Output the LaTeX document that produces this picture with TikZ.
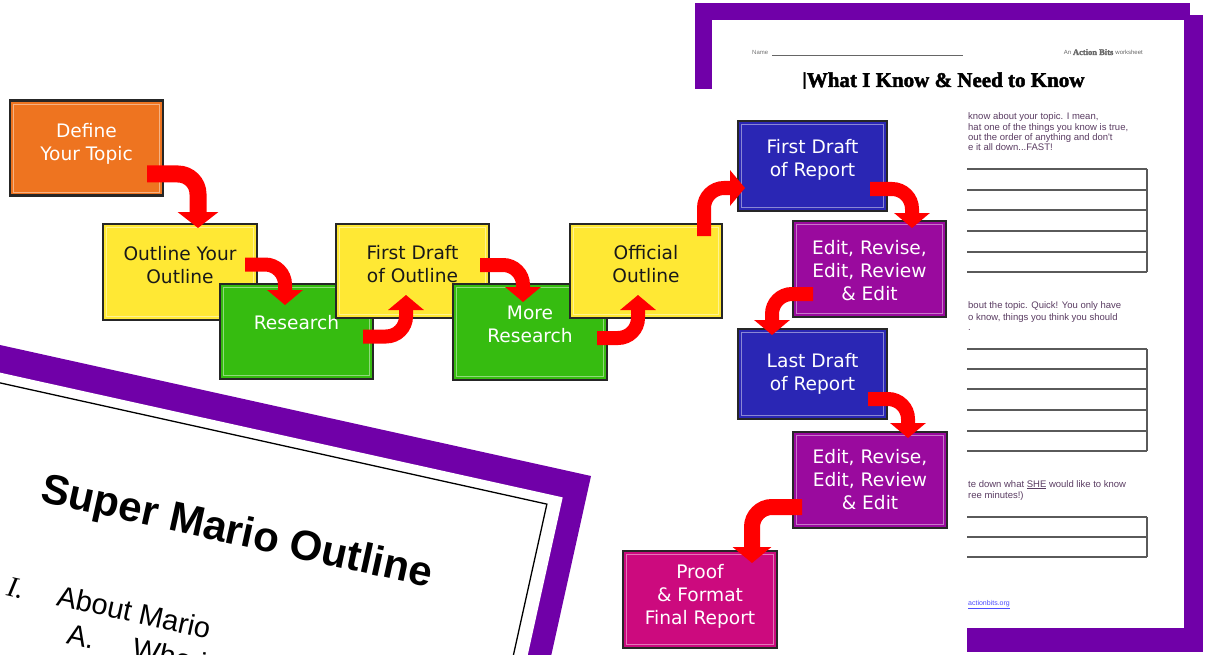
\documentclass[tikz,border=0pt]{standalone}
\usepackage{fontspec}
\setmainfont{Liberation Serif}
\newfontfamily\boxfont{DejaVu Sans}
\newfontfamily\sansfont{Liberation Sans}
\newfontfamily\heavyserif{Liberation Serif}[BoldFeatures={FakeBold=2}]
\usetikzlibrary{arrows.meta}

\definecolor{flowred}{HTML}{FF0000}
\definecolor{orangefill}{HTML}{EE7420}
\definecolor{yellowfill}{HTML}{FFE834}
\definecolor{greenfill}{HTML}{36BC10}
\definecolor{bluefill}{HTML}{2A26B4}
\definecolor{purplefill}{HTML}{9A0A9E}
\definecolor{pinkfill}{HTML}{CC0A7E}
\definecolor{sheetpurple}{HTML}{7000A8}
\definecolor{sheettext}{HTML}{5A3C62}
\definecolor{ruleline}{HTML}{5A5A5A}

\tikzset{
  flowbox/.style={draw=black!85, line width=2.5pt, fill=#1, minimum width=153pt, minimum height=95pt,
    inner sep=0pt, outer sep=0pt,
    path picture={\draw[white, opacity=0.45, line width=0.8pt]
      ([shift={(3.5pt,-3.5pt)}]path picture bounding box.north west) rectangle
      ([shift={(-3.5pt,3.5pt)}]path picture bounding box.south east);}},
  bluebox/.style={flowbox=bluefill, minimum width=149pt, minimum height=90pt},
  boxtext/.style={font=\boxfont\fontsize{18.6}{23}\selectfont, align=center, text=white, inner sep=0pt},
  darktext/.style={boxtext, text=black!90},
  bendarrow/.style={draw=flowred, line width=14pt, rounded corners=20pt, -{Triangle[length=15pt,width=35pt]}},
  sheetline/.style={font=\sansfont\fontsize{9.5}{10}\selectfont, text=sheettext, anchor=base west, inner sep=0pt},
  tablerule/.style={draw=ruleline, line width=1.2pt},
  mariotext/.style={font=\sansfont\fontsize{29}{34}\selectfont, anchor=base west, inner sep=0pt},
}

\begin{document}
\begin{tikzpicture}[x=1pt,y=-1pt]
\clip (0,0) rectangle (1209,655);
\fill[white] (0,0) rectangle (1209,655);

% worksheet behind everything
\fill[sheetpurple] (700,15) rectangle (1203,652);
\fill[sheetpurple] (695,3) rectangle (1190,640);
\fill[white] (712,20) rectangle (1184,628);
\node[font=\sansfont\fontsize{6}{7}\selectfont, text=black!55, anchor=base west, inner sep=0pt] (name) at (752,55) {Name};
\draw[black!60, line width=0.6pt] (name.base east) ++(4,0) -- (963,55);
\node[text=black!60, anchor=base east, inner sep=0pt] (brand) at (1143,55)
  {\sansfont\fontsize{6}{7}\selectfont An \heavyserif\bfseries\fontsize{8.5}{9}\selectfont Action Bits \sansfont\mdseries\fontsize{6}{7}\selectfont worksheet};
\node[font=\heavyserif\bfseries\fontsize{21}{24}\selectfont, anchor=base west, inner sep=0pt] (ws title) at (802,87) {|What I Know \& Need to Know};

\node[sheetline] (p1a) at (968,120) {know about your topic. I mean,};
\node[sheetline] (p1b) at (968,131) {hat one of the things you know is true,};
\node[sheetline] (p1c) at (968,141) {out the order of anything and don't};
\node[sheetline] (p1d) at (968,151) {e it all down...FAST!};
\foreach \y in {169,190,210,231,252,272}
  \draw[tablerule] (967,\y) -- (1147,\y);
\draw[tablerule] (1147,169) -- (1147,272);

\node[sheetline] (p2a) at (968,308) {bout the topic. Quick! You only have};
\node[sheetline] (p2b) at (968,320) {o know, things you think you should};
\node[sheetline] (p2c) at (968,330) {.};
\foreach \y in {349,369,389,410,431,451}
  \draw[tablerule] (967,\y) -- (1147,\y);
\draw[tablerule] (1147,349) -- (1147,451);

\node[sheetline] (p3a) at (968,487) {te down what \underline{SHE} would like to know};
\node[sheetline] (p3b) at (968,498) {ree minutes!)};
\foreach \y in {517,537,557}
  \draw[tablerule] (967,\y) -- (1147,\y);
\draw[tablerule] (1147,517) -- (1147,557);
\node[sheetline, text=blue!70, font=\sansfont\fontsize{7}{8}\selectfont] (link) at (968,605) {\underline{actionbits.org}};

% flowchart sheet
\fill[white] (0,89) rectangle (967,655);

\node[flowbox=orangefill] (defn) at (86.5,148) {};
\node[boxtext] (defn text) at ([yshift=4.5pt]defn.center) {Define\\Your Topic};
\node[flowbox=yellowfill, minimum width=154pt, minimum height=96pt] (outl) at (180,272) {};
\node[darktext] (outl text) at ([yshift=7pt]outl.center) {Outline Your\\Outline};
\node[flowbox=greenfill] (rsch) at (296.5,331.5) {};
\node[boxtext] (rsch text) at ([yshift=8.5pt]rsch.center) {Research};
\node[flowbox=yellowfill, minimum height=94pt] (fdo) at (412.5,271) {};
\node[darktext] (fdo text) at ([yshift=6.5pt]fdo.center) {First Draft\\of Outline};
\node[flowbox=greenfill, minimum width=154pt, minimum height=96pt] (mres) at (530,332) {};
\node[boxtext] (mres text) at ([yshift=8pt]mres.center) {More\\Research};
\node[flowbox=yellowfill, minimum width=152pt, minimum height=94pt] (offo) at (646,271) {};
\node[darktext] (offo text) at ([yshift=6.5pt]offo.center) {Official\\Outline};
\node[bluebox] (fdr) at (812.5,166) {};
\node[boxtext] (fdr text) at ([yshift=6.5pt]fdr.center) {First Draft\\of Report};
\node[flowbox=purplefill, minimum height=96pt] (edt1) at (869.5,269) {};
\node[boxtext] (edt1 text) at ([yshift=-2pt]edt1.center) {Edit, Revise,\\Edit, Review\\\& Edit};
\node[bluebox] (ldr) at (812.5,374) {};
\node[boxtext] (ldr text) at (ldr.center) {Last Draft\\of Report};
\node[flowbox=purplefill, minimum width=154pt, minimum height=96pt] (edt2) at (870,480) {};
\node[boxtext] (edt2 text) at (edt2.center) {Edit, Revise,\\Edit, Review\\\& Edit};
\node[flowbox=pinkfill, minimum width=154pt, minimum height=97pt] (prf) at (700,599.5) {};
\node[boxtext] (prf text) at ([yshift=3.5pt]prf.center) {Proof\\\& Format\\Final Report};

% curved red arrows
\draw[bendarrow, line width=17pt, -{Triangle[length=16pt,width=40pt]}]
  ([shift={(-16,-21.5)}]defn.south east) -| ([shift={(18,4)}]outl.north);
\draw[bendarrow] ([shift={(-12,-7.5)}]outl.east) -| ([shift={(-11.5,21)}]rsch.north);
\draw[bendarrow] ([shift={(-10,5)}]rsch.east) -| ([shift={(-6.5,-23)}]fdo.south);
\draw[bendarrow] ([shift={(-9,-6)}]fdo.east) -| ([shift={(-7,18)}]mres.north);
\draw[bendarrow] ([shift={(-10,6)}]mres.east) -| ([shift={(-8,-23)}]offo.south);
\draw[bendarrow] ([shift={(-18,12)}]offo.north east) |- ([shift={(7,22)}]fdr.west);
\draw[bendarrow] ([shift={(-17,23)}]fdr.east) -| ([shift={(42.5,7)}]edt1.north);
\draw[bendarrow] ([shift={(20,25)}]edt1.west) -| ([shift={(-40.5,6)}]ldr.north);
\draw[bendarrow] ([shift={(-19,25)}]ldr.east) -| ([shift={(38,6)}]edt2.north);
\draw[bendarrow, line width=16pt, -{Triangle[length=16pt,width=38pt]}]
  ([shift={(9,27)}]edt2.west) -| ([shift={(52,12)}]prf.north);

% tilted outline page in front
\begin{scope}[shift={(591,476)}, rotate=-12.5]
  \fill[sheetpurple] (-700,0) rectangle (0,600);
  \fill[white] (-700,27) rectangle (-23,600);
  \draw[line width=1.3pt] (-700,37) rectangle (-37,600);
  \node[font=\sansfont\bfseries\fontsize{42}{48}\selectfont, anchor=base, inner sep=0pt, transform shape]
    (mario title) at (-333.5,144) {Super Mario Outline};
  \node[mariotext, font=\itshape\fontsize{29}{34}\selectfont, transform shape] (num one) at (-546,243) {I.};
  \node[mariotext, transform shape] (about) at (-495,242) {About Mario};
  \node[mariotext, transform shape] (let a) at (-477,277) {A.};
  \node[mariotext, transform shape] (who) at (-410,277) {Who is};
\end{scope}
\end{tikzpicture}
\end{document}
